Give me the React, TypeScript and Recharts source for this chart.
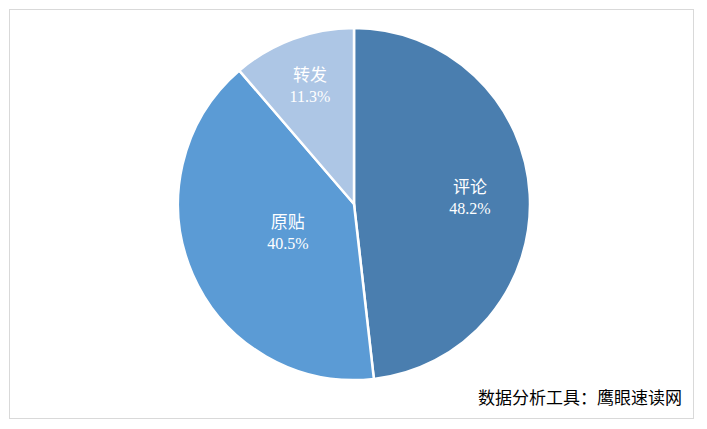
import React from "react";
import { PieChart, Pie, Cell } from "recharts";

const categories = ["评论", "原贴", "转发"];
const shares = [48.2, 40.5, 11.3];
const percentLabels = ["48.2%", "40.5%", "11.3%"];
const sliceColors = ["#4A7EAF", "#5B9BD5", "#ADC6E5"];
const labelRadiusFactors = [0.66, 0.41, 0.72];
const sourceNote = "数据分析工具：鹰眼速读网";

const data = categories.map((name, i) => ({ name, value: shares[i], pct: percentLabels[i] }));

const FONT = "'Liberation Serif', 'Times New Roman', 'Noto Sans CJK SC', serif";
const RAD = Math.PI / 180;

const renderLabel = (props: any) => {
  const { cx, cy, midAngle, outerRadius, index } = props;
  const r = outerRadius * labelRadiusFactors[index];
  const x = cx + r * Math.cos(-midAngle * RAD);
  const y = cy + r * Math.sin(-midAngle * RAD);
  return (
    <text
      x={x}
      y={y}
      fill="#ffffff"
      textAnchor="middle"
      fontFamily={FONT}
      fontSize={16}
    >
      <tspan x={x} y={y - 10} dominantBaseline="central" fontSize={17}>
        {data[index].name}
      </tspan>
      <tspan x={x} y={y + 11} dominantBaseline="central">
        {data[index].pct}
      </tspan>
    </text>
  );
};

export default function App() {
  const W = 687;
  const H = 412;
  return (
    <div style={{ position: "relative", width: W, height: H }}>
      <div
        style={{
          position: "absolute",
          left: 1,
          top: 1,
          width: 685,
          height: 410,
          boxSizing: "border-box",
          border: "1px solid #d9d9d9",
        }}
      />
      <div style={{ position: "absolute", left: 0, top: 0 }}>
        <PieChart width={W} height={H} margin={{ top: 0, right: 0, bottom: 0, left: 0 }}>
          <Pie
            data={data}
            dataKey="value"
            nameKey="name"
            cx={346}
            cy={196}
            outerRadius={176}
            innerRadius={0}
            startAngle={90}
            endAngle={-270}
            stroke="#ffffff"
            strokeWidth={2.5}
            label={renderLabel}
            labelLine={false}
            isAnimationActive={false}
          >
            {data.map((d, i) => (
              <Cell key={d.name} fill={sliceColors[i]} />
            ))}
          </Pie>
          <text
            x={674}
            y={396}
            textAnchor="end"
            fontFamily={FONT}
            fontSize={17}
            fill="#000000"
          >
            {sourceNote}
          </text>
        </PieChart>
      </div>
    </div>
  );
}
